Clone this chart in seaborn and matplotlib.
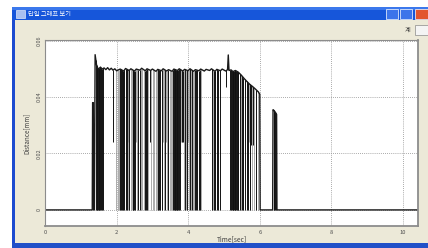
import numpy as np
import matplotlib
matplotlib.use("Agg")
import matplotlib.pyplot as plt
from matplotlib.patches import Rectangle
import seaborn as sns

# top envelope of the distance trace (time in sec, distance in mm)
top_t = [0.00, 1.32, 1.33, 1.35, 1.36, 1.38, 1.40, 1.45, 1.50, 1.55, 1.60, 1.65,
         1.70, 1.75, 1.80, 1.85, 1.90, 1.95, 2.00, 2.10, 2.20, 2.25, 2.35, 2.40,
         2.50, 2.55, 2.65, 2.70, 2.80, 2.85, 2.95, 3.00, 3.10, 3.15, 3.25, 3.30,
         3.40, 3.45, 3.55, 3.60, 3.70, 3.75, 3.85, 3.90, 4.00, 4.05, 4.15, 4.20,
         4.30, 4.35, 4.45, 4.50, 4.60, 4.65, 4.75, 4.80, 4.90, 4.95, 5.05, 5.10,
         5.12, 5.14, 5.20, 5.25, 5.32, 5.40, 5.48, 5.56, 5.64, 5.72, 5.80, 5.88,
         5.96, 6.00, 6.01, 6.36, 6.37, 6.40, 6.44, 6.47, 6.48, 10.42]
top_d = [0, 0, 0.038, 0.038, 0, 0, 0.055, 0.0505, 0.0500, 0.0506, 0.0499, 0.0503,
         0.0497, 0.0504, 0.0496, 0.0502, 0.0495, 0.0500, 0.0493, 0.0499, 0.0492, 0.0501, 0.0494, 0.0500,
         0.0492, 0.0499, 0.0495, 0.0502, 0.0493, 0.0500, 0.0494, 0.0499, 0.0491, 0.0498, 0.0493, 0.0500,
         0.0492, 0.0497, 0.0491, 0.0499, 0.0494, 0.0500, 0.0492, 0.0498, 0.0493, 0.0500, 0.0491, 0.0497,
         0.0493, 0.0499, 0.0492, 0.0498, 0.0494, 0.0500, 0.0491, 0.0498, 0.0493, 0.0499, 0.0492, 0.0497,
         0.0549, 0.0494, 0.0496, 0.0490, 0.0494, 0.0488, 0.0478, 0.0466, 0.0455, 0.0445, 0.0437, 0.0428,
         0.0418, 0.0410, 0, 0, 0.0355, 0.0352, 0.0345, 0.0338, 0, 0]

# dark dropouts: times where the signal falls down, and how low it falls
drop_t = [1.42, 1.44, 1.46, 1.48, 1.50, 1.52, 1.54, 1.57, 1.60, 1.63, 1.91, 2.09,
          2.12, 2.14, 2.19, 2.22, 2.25, 2.28, 2.36, 2.45, 2.47, 2.49, 2.51, 2.61,
          2.65, 2.79, 2.81, 2.84, 2.93, 3.16, 3.19, 3.22, 3.26, 3.35, 3.44, 3.58,
          3.60, 3.62, 3.64, 3.66, 3.68, 3.70, 3.72, 3.74, 3.77, 3.82, 3.86, 3.91,
          3.97, 4.05, 4.11, 4.19, 4.22, 4.26, 4.30, 4.33, 4.66, 4.72, 4.76, 4.80,
          4.84, 4.88, 5.07, 5.17, 5.20, 5.22, 5.24, 5.26, 5.28, 5.30, 5.32, 5.34,
          5.36, 5.38, 5.40, 5.44, 5.50, 5.54, 5.58, 5.63, 5.68, 5.72, 5.76, 5.82,
          5.90, 6.39, 6.41, 6.43, 6.45]
drop_floor = [0, 0, 0, 0, 0, 0, 0, 0, 0, 0, 0.024, 0,
              0, 0, 0, 0, 0, 0, 0, 0, 0, 0, 0, 0,
              0, 0, 0, 0, 0.024, 0, 0, 0, 0, 0, 0, 0,
              0, 0, 0, 0, 0, 0, 0, 0, 0, 0.024, 0.024, 0,
              0, 0, 0, 0, 0, 0, 0, 0, 0, 0, 0, 0,
              0, 0, 0.0435, 0, 0, 0, 0, 0, 0, 0, 0, 0,
              0, 0, 0, 0, 0, 0, 0, 0, 0, 0, 0.023, 0.023,
              0, 0, 0, 0, 0]

# faint (thin, grey looking) dropouts
gray_t = [1.97, 2.03, 2.06, 2.17, 2.31, 2.33, 2.40, 2.42, 2.55, 2.58, 2.69, 2.72,
          2.76, 2.88, 2.97, 3.01, 3.05, 3.09, 3.13, 3.30, 3.32, 3.39, 3.41, 3.48,
          3.52, 3.55, 3.80, 3.84, 3.89, 3.94, 4.00, 4.02, 4.08, 4.14, 4.16, 4.37,
          4.69, 4.74, 5.46, 5.48, 5.52, 5.60, 5.66, 5.70, 5.74, 5.79, 5.85, 5.94]
gray_floor = [0, 0, 0, 0, 0.024, 0, 0, 0, 0.024, 0, 0, 0,
              0, 0, 0, 0, 0, 0, 0, 0.024, 0, 0.024, 0, 0,
              0, 0, 0.024, 0.024, 0, 0, 0.024, 0, 0, 0, 0, 0,
              0, 0, 0, 0, 0, 0.024, 0.024, 0.024, 0, 0, 0, 0]

x_ticks = [0, 2, 4, 6, 8, 10]
y_ticks = [0, 0.02, 0.04, 0.06]
y_tick_labels = ["0", "0.02", "0.04", "0.06"]
window_title = "단일 그래프 보기"

sns.set_theme(style="white")
plt.rcParams['font.family'] = ['Noto Sans CJK KR', 'DejaVu Sans']

W, H = 428, 248
fig = plt.figure(figsize=(W / 100, H / 100), dpi=100)
fig.patch.set_facecolor("white")


def box(x, y, w, h, **kw):
    r = Rectangle((x / W, 1 - (y + h) / H), w / W, h / H, transform=fig.transFigure,
                  zorder=-5, **kw)
    fig.add_artist(r)
    return r


# window chrome
box(12, 8, 416, 240, facecolor="#ECE9D8", edgecolor="none")
box(12, 8, 3, 236, facecolor="#1C4BD0", edgecolor="none")
box(12, 7, 416, 13, facecolor="#1656DA", edgecolor="none")
box(12, 7, 416, 3, facecolor="#3B78EC", edgecolor="none")
box(12, 243, 416, 5, facecolor="#2150C8", edgecolor="none")
box(16, 10, 9, 8, facecolor="#A9C0F0", edgecolor="white", linewidth=0.4)
fig.text(28 / W, 1 - 14 / H, window_title, color="white", fontsize=4.5,
         va="center", ha="left")
box(386, 9, 12, 10, facecolor="#3C74EA", edgecolor="white", linewidth=0.5)
box(400, 9, 12, 10, facecolor="#3C74EA", edgecolor="white", linewidth=0.5)
box(415, 9, 13, 10, facecolor="#E2552E", edgecolor="white", linewidth=0.5)
fig.text(408 / W, 1 - 30 / H, "계", color="#333333", fontsize=4.5, va="center", ha="center")
box(415, 25, 14, 10, facecolor="#F4F4F4", edgecolor="#8A8A8A", linewidth=0.5)

ax = fig.add_axes([45 / W, 1 - 226 / H, 373 / W, 186 / H])
ax.set_zorder(2)
ax.set_facecolor("white")

ax.vlines(gray_t, gray_floor, np.interp(gray_t, top_t, top_d), color="#8A8A8A", linewidth=0.5)
ax.vlines(drop_t, drop_floor, np.interp(drop_t, top_t, top_d), color="#111111", linewidth=0.7)
sns.lineplot(x=top_t, y=top_d, ax=ax, color="#1A1A1A", linewidth=1.0, sort=False,
             estimator=None)

ax.set_xlim(0, 10.42)
ax.set_ylim(-0.0057, 0.0602)
ax.set_xticks(x_ticks)
ax.set_xticklabels([str(v) for v in x_ticks])
ax.set_yticks(y_ticks)
ax.set_yticklabels(y_tick_labels, va="center")
ax.tick_params(axis="x", length=0, labelsize=4.2, pad=2.8, colors="#505050")
ax.tick_params(axis="y", length=0, labelsize=4, pad=2.5, colors="#505050", labelrotation=90)
ax.grid(True, color="#8E8E8E", linestyle=(0, (1, 1.5)), linewidth=0.6)
for s in ax.spines.values():
    s.set_color("#8C8C8C")
    s.set_linewidth(0.8)
ax.spines["right"].set_linewidth(1.3)
ax.spines["bottom"].set_linewidth(1.3)

ax.set_xlabel("Time[sec]", fontsize=4.8, color="#404040", labelpad=0.5)
ax.set_ylabel("Distance[mm]", fontsize=4.5, color="#404040", labelpad=4)

fig.savefig("out.png", dpi=100)
